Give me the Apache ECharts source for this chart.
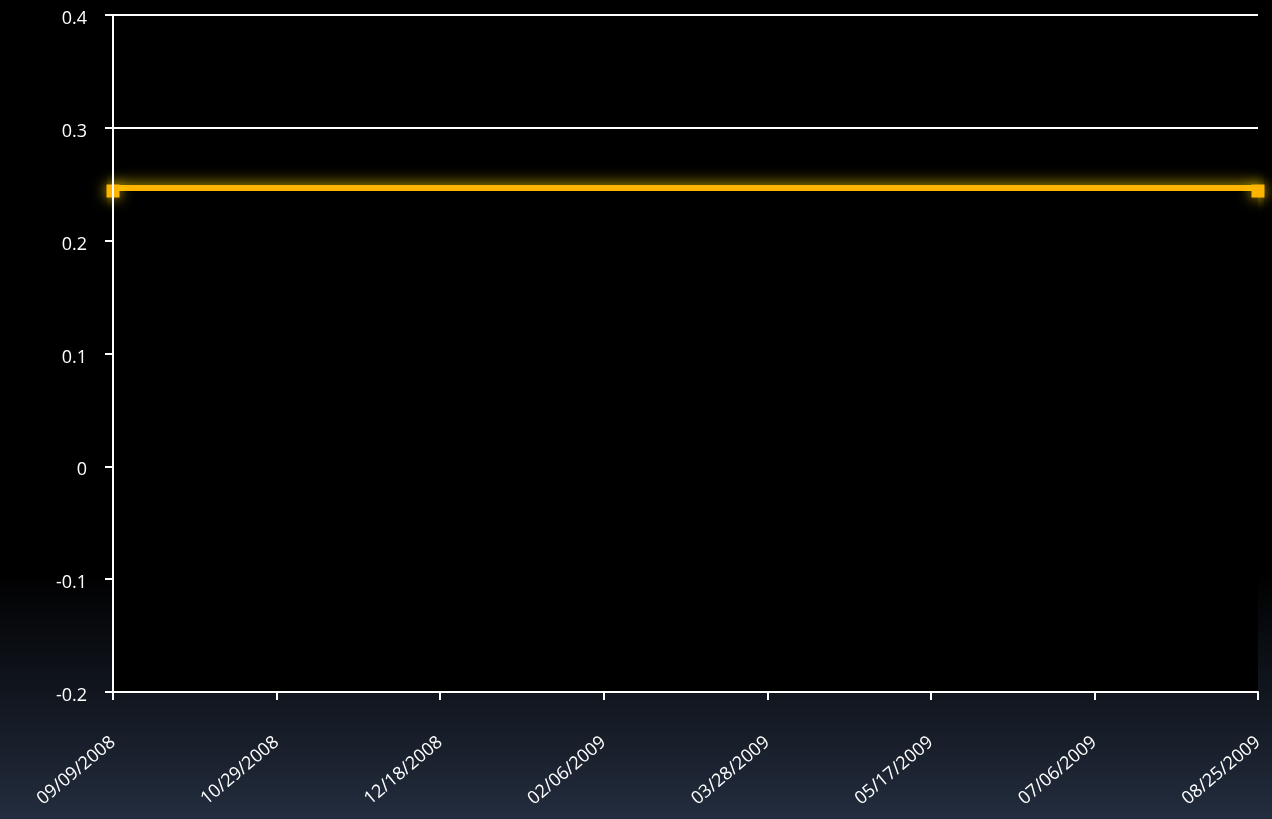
<!DOCTYPE html>
<html>
<head>
<meta charset="utf-8">
<script src="https://cdn.jsdelivr.net/npm/echarts@6/dist/echarts.min.js"></script>
<style>html,body{margin:0;padding:0;background:#000;}#c{width:1272px;height:819px;}</style>
</head>
<body>
<div id="c"></div>
<script>
const dates = ['2008-09-09', '2009-08-25'];
const values = [0.244, 0.244];
const yTicks = [-0.2, -0.1, 0, 0.1, 0.2, 0.3, 0.4];
const xStepDays = 50;

const DAY = 86400000;
const t0 = Date.parse(dates[0] + 'T00:00:00Z');
const dayOf = d => Math.round((Date.parse(d + 'T00:00:00Z') - t0) / DAY);
const xMax = dayOf(dates[dates.length - 1]);
const pad = n => (n < 10 ? '0' : '') + n;
function fmtDay(v) {
  const d = new Date(t0 + v * DAY);
  return pad(d.getUTCMonth() + 1) + '/' + pad(d.getUTCDate()) + '/' + d.getUTCFullYear();
}
const yMin = yTicks[0], yMax = yTicks[yTicks.length - 1];
const FONT = 'Open Sans';
const points = dates.map((d, i) => [dayOf(d), values[i]]);

const chart = echarts.init(document.getElementById('c'));
chart.setOption({
  backgroundColor: {
    type: 'linear', x: 0, y: 0, x2: 0, y2: 1,
    colorStops: [
      { offset: 0, color: '#000000' },
      { offset: 0.7, color: '#000000' },
      { offset: 1, color: '#232d3e' }
    ]
  },
  animation: false,
  grid: { left: 113, right: 14, top: 15, bottom: 127, containLabel: false },
  xAxis: {
    type: 'value', min: 0, max: xMax, interval: xStepDays, z: 10,
    axisLine: { show: true, onZero: false, lineStyle: { color: '#ffffff', width: 2 } },
    axisTick: { show: true, length: 8, lineStyle: { color: '#ffffff', width: 2 } },
    splitLine: { show: false },
    axisLabel: {
      color: '#ffffff', fontSize: 18, fontFamily: FONT,
      rotate: 40, margin: 48, formatter: v => fmtDay(v),
      showMinLabel: true, showMaxLabel: true
    }
  },
  yAxis: [{
    type: 'value', min: yMin, max: yMax, interval: 0.1, z: 0,
    axisLine: { show: false, onZero: false },
    axisTick: { show: false },
    axisLabel: { show: false },
    splitLine: { show: true, lineStyle: { color: '#ffffff', width: 2 } }
  }, {
    type: 'value', min: yMin, max: yMax, interval: 0.1, z: 10, position: 'left',
    axisLine: { show: true, onZero: false, lineStyle: { color: '#ffffff', width: 2 } },
    axisTick: { show: true, length: 8, lineStyle: { color: '#ffffff', width: 2 } },
    splitLine: { show: false },
    axisLabel: {
      color: '#ffffff', fontSize: 18, fontFamily: FONT, margin: 26,
      verticalAlign: 'top', lineHeight: 8,
      formatter: v => (Math.round(v * 10) / 10).toString()
    }
  }],
  series: [{
    type: 'line', yAxisIndex: 0, data: points,
    symbol: 'none',
    lineStyle: { color: '#ffb400', width: 12, shadowBlur: 16, shadowColor: 'rgba(255,215,0,0.85)' },
    z: 2
  }, {
    type: 'line', yAxisIndex: 0, data: points,
    symbol: 'rect', symbolSize: 13,
    itemStyle: { color: '#ffb400', shadowBlur: 14, shadowColor: 'rgba(255,215,0,0.9)' },
    lineStyle: { width: 0, opacity: 0 },
    areaStyle: { color: '#000000', opacity: 1, origin: 'start' },
    z: 3
  }]
});
</script>
</body>
</html>
